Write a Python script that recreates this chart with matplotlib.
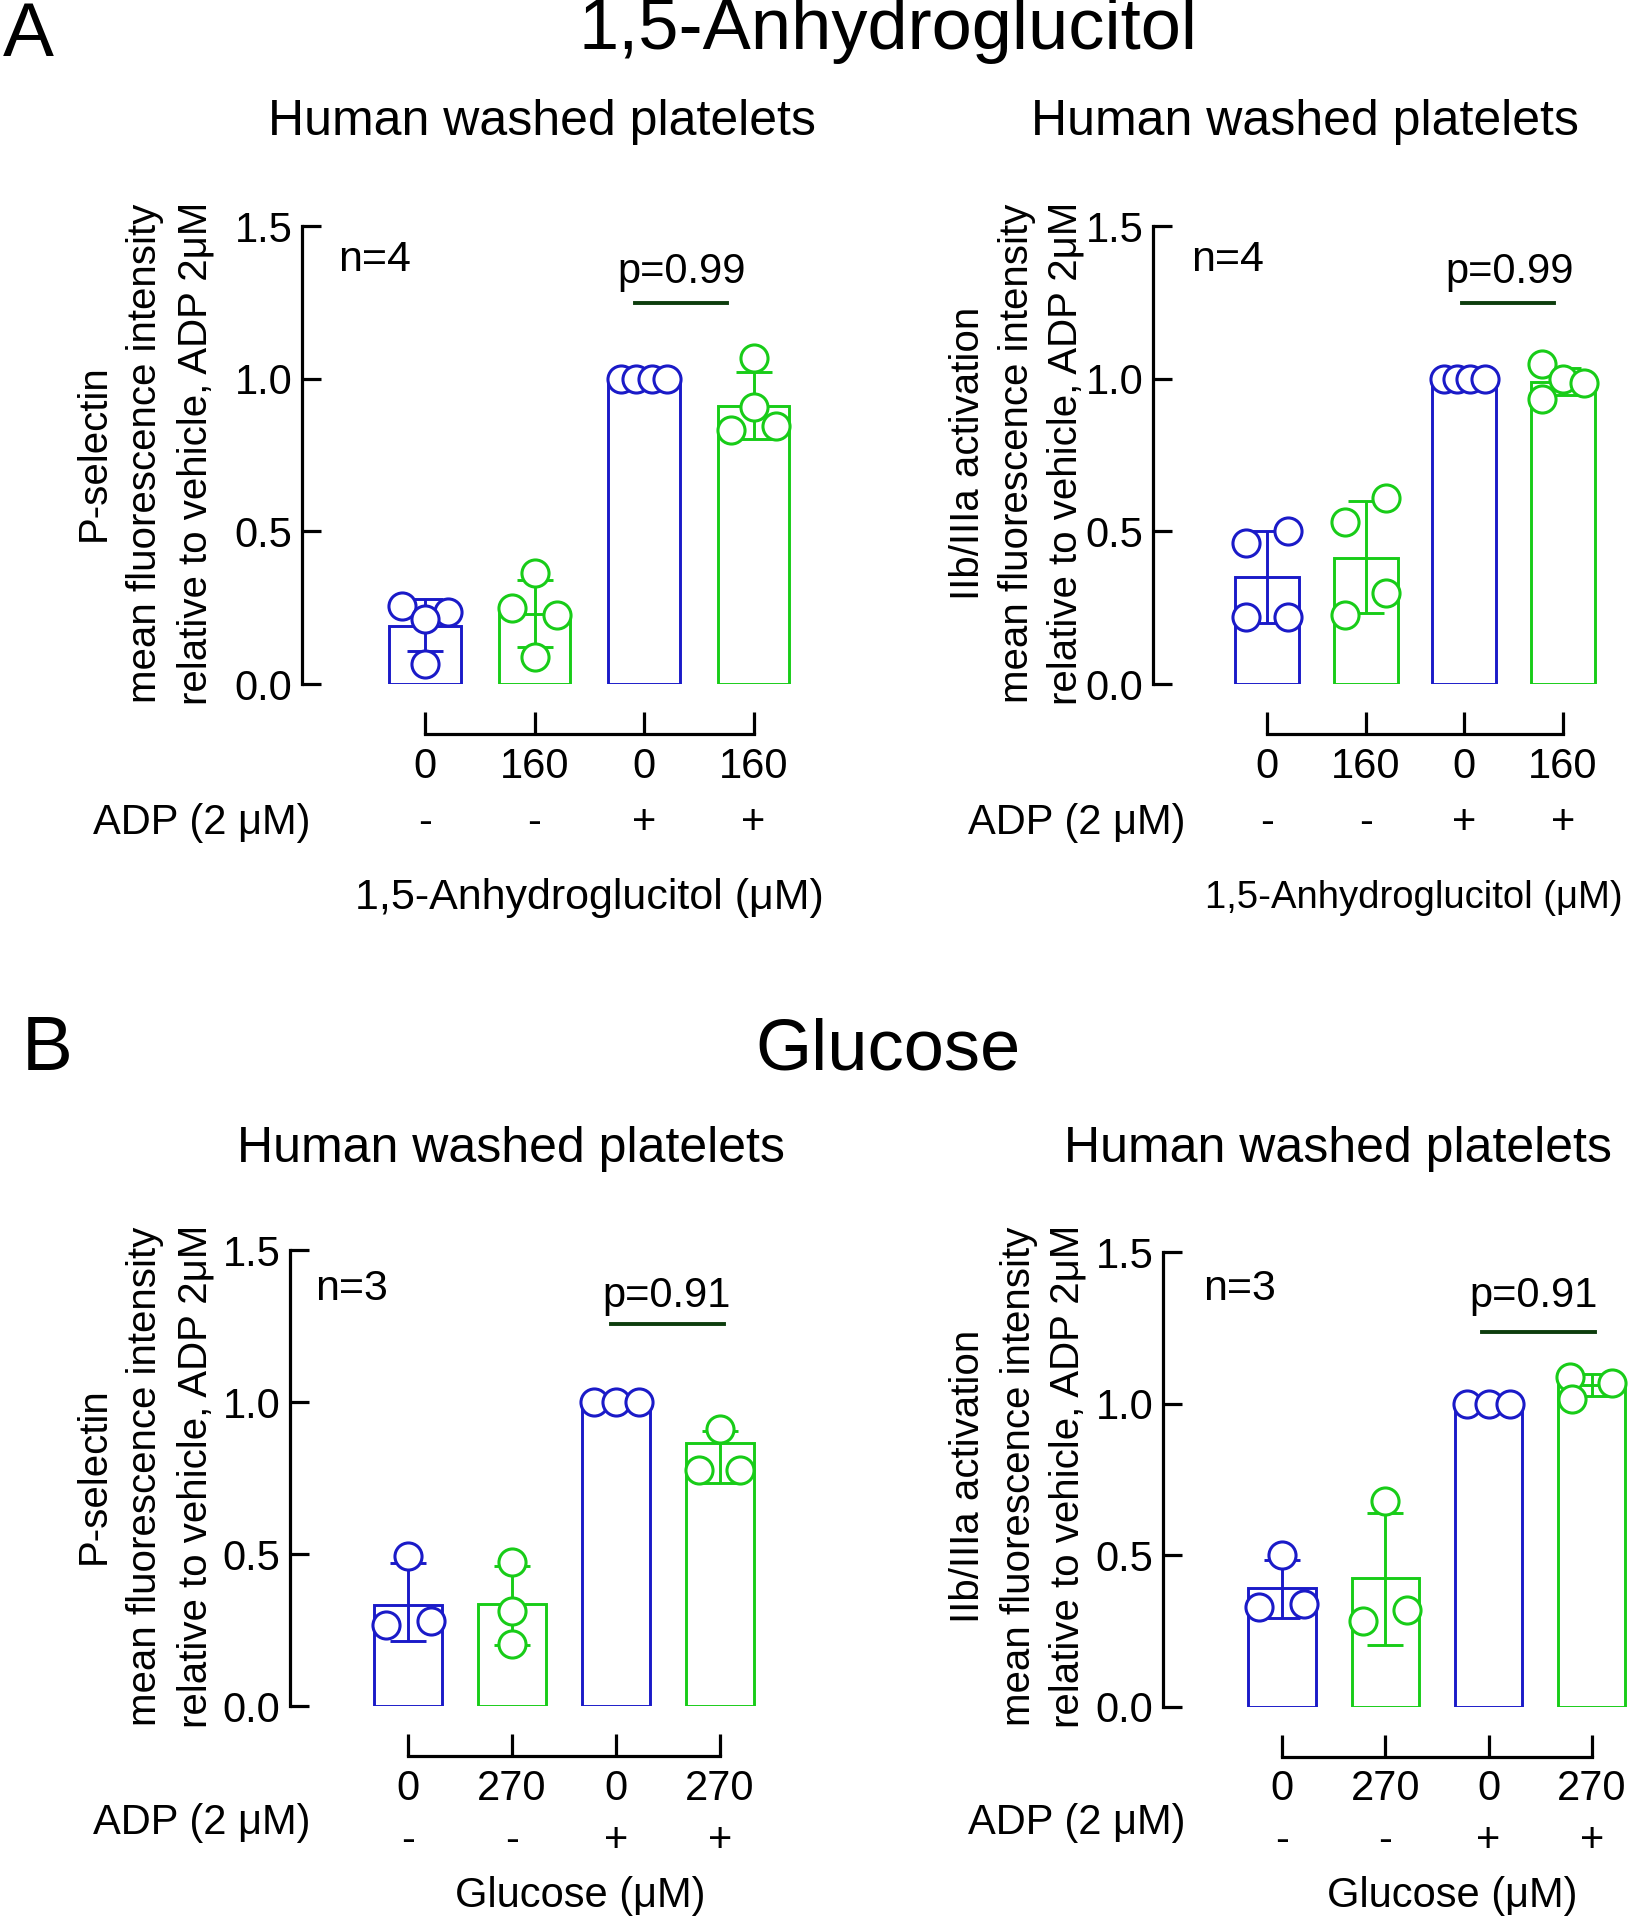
import matplotlib
matplotlib.use("Agg")
import matplotlib.pyplot as plt
from matplotlib.transforms import blended_transform_factory as btf

plt.rcParams['font.family'] = ['Liberation Sans', 'DejaVu Sans']

W, H = 1634, 1920
BLUE = '#1a1ac8'
GREEN = '#18cc18'
PLINE = '#0d3d0d'
COLORS = [BLUE, GREEN, BLUE, GREEN]
FS = 30
FS_Y = 29

# ---------------- data ----------------
ag_conc = ['0', '160', '0', '160']
glu_conc = ['0', '270', '0', '270']
adp_signs = ['-', '-', '+', '+']
yticks = [0.0, 0.5, 1.0, 1.5]
ytick_labels = ['0.0', '0.5', '1.0', '1.5']

# A, P-selectin, 1,5-AG
a_psel_mean = [0.19, 0.228, 1.0, 0.91]
a_psel_top = [0.277, 0.342, 1.0, 1.022]
a_psel_bot = [0.107, 0.12, 1.0, 0.804]
a_psel_pts = [[0.255, 0.237, 0.212, 0.067],
              [0.362, 0.25, 0.226, 0.087],
              [1.0, 1.0, 1.0, 1.0],
              [1.068, 0.908, 0.832, 0.846]]
a_psel_off = [[-0.21, 0.21, 0.0, 0.0],
              [0.0, -0.21, 0.21, 0.0],
              [-0.21, -0.07, 0.07, 0.21],
              [0.0, 0.0, -0.21, 0.21]]

# A, IIb/IIIa, 1,5-AG
a_gp_mean = [0.35, 0.413, 1.0, 0.99]
a_gp_top = [0.50, 0.598, 1.0, 1.036]
a_gp_bot = [0.199, 0.234, 1.0, 0.946]
a_gp_pts = [[0.462, 0.5, 0.22, 0.22],
            [0.609, 0.529, 0.299, 0.226],
            [1.0, 1.0, 1.0, 1.0],
            [1.047, 1.0, 0.986, 0.935]]
a_gp_off = [[-0.21, 0.21, -0.21, 0.21],
            [0.21, -0.21, 0.21, -0.21],
            [-0.21, -0.08, 0.06, 0.21],
            [-0.21, 0.0, 0.21, -0.21]]

# B, P-selectin, glucose
b_psel_mean = [0.333, 0.336, 1.0, 0.865]
b_psel_top = [0.47, 0.462, 1.0, 0.906]
b_psel_bot = [0.215, 0.2, 1.0, 0.733]
b_psel_pts = [[0.492, 0.265, 0.28],
              [0.475, 0.311, 0.204],
              [1.0, 1.0, 1.0],
              [0.912, 0.775, 0.775]]
b_psel_off = [[0.0, -0.215, 0.22],
              [0.0, 0.0, 0.0],
              [-0.21, 0.0, 0.22],
              [0.0, -0.2, 0.19]]

# B, IIb/IIIa, glucose
b_gp_mean = [0.392, 0.425, 1.0, 1.06]
b_gp_top = [0.486, 0.64, 1.0, 1.098]
b_gp_bot = [0.294, 0.206, 1.0, 1.026]
b_gp_pts = [[0.5, 0.329, 0.338],
            [0.678, 0.282, 0.321],
            [1.0, 1.0, 1.0],
            [1.087, 1.067, 1.015]]
b_gp_off = [[0.0, -0.22, 0.21],
            [0.0, -0.22, 0.21],
            [-0.21, 0.0, 0.21],
            [-0.21, 0.19, -0.19]]

fig = plt.figure(figsize=(W / 100, H / 100), dpi=100)


def ft(x, y, s, size, **kw):
    kw.setdefault('ha', 'center')
    kw.setdefault('va', 'center')
    fig.text(x / W, 1 - y / H, s, fontsize=size, **kw)


def panel(box, first_px, spacing_px, means, top, bot, pts, offs, conc,
          n_txt, n_xy, p_txt, p_line, p_y, ylabel_lines, ylabel_x, ylabel_yc,
          adp_y, adp_lab_xy, xlabel, xlabel_xy, xlabel_fs):
    l, t, r, b = box
    ax = fig.add_axes([l / W, 1 - b / H, (r - l) / W, (b - t) / H])
    x0 = (l - first_px) / spacing_px
    x1 = (r - first_px) / spacing_px
    ax.set_xlim(x0, x1)
    ax.set_ylim(0, 1.5)
    for s in ['top', 'right']:
        ax.spines[s].set_visible(False)
    ax.spines['left'].set_bounds(0, 1.5)
    ax.spines['left'].set_linewidth(2.3)
    ax.spines['bottom'].set_linewidth(2.3)
    ax.spines['bottom'].set_position(('outward', 36))
    ax.spines['bottom'].set_bounds(0, 3)
    ax.set_yticks(yticks)
    ax.set_yticklabels(ytick_labels)
    ax.set_xticks(range(4))
    ax.set_xticklabels(conc)
    ax.tick_params(axis='y', direction='in', length=14, width=2.3, labelsize=FS, pad=7)
    ax.tick_params(axis='x', direction='in', length=16, width=2.3, labelsize=FS, pad=9)
    xs = list(range(4))
    ax.bar(xs, means, width=0.65, facecolor='white', edgecolor=COLORS,
           linewidth=2.1, zorder=2)
    for i in xs:
        if top[i] != bot[i]:
            ax.errorbar(i, (top[i] + bot[i]) / 2, yerr=(top[i] - bot[i]) / 2,
                        color=COLORS[i], capsize=13, capthick=2.1, elinewidth=2.1,
                        zorder=3)
        for v, o in zip(pts[i], offs[i]):
            ax.plot(i + o, v, 'o', ms=19.5, mfc='white', mec=COLORS[i], mew=2.2,
                    zorder=4, clip_on=False)
    ax.plot(p_line, [p_y, p_y], color=PLINE, lw=2.8, zorder=3, clip_on=False)
    ft(n_xy[0], n_xy[1], n_txt, FS + 1)
    ft(p_txt[1], p_txt[2], p_txt[0], FS)
    for s, xx in zip(ylabel_lines, ylabel_x):
        ft(xx, ylabel_yc, s, FS_Y, rotation=90)
    tr = btf(ax.transData, fig.transFigure)
    for i in xs:
        ax.text(i, 1 - adp_y / H, adp_signs[i], transform=tr, fontsize=FS,
                ha='center', va='center')
    ft(adp_lab_xy[0], adp_lab_xy[1], 'ADP (2 μM)', FS)
    ft(xlabel_xy[0], xlabel_xy[1], xlabel, xlabel_fs)
    return ax


psel_lab = ['P-selectin', 'mean fluorescence intensity', 'relative to vehicle, ADP 2μM']
gp_lab = ['IIb/IIIa activation', 'mean fluorescence intensity', 'relative to vehicle, ADP 2μM']

# Panel A left
panel((302, 226, 830, 684), 425, 109.5, a_psel_mean, a_psel_top, a_psel_bot,
      a_psel_pts, a_psel_off, ag_conc, 'n=4', (375, 260),
      ('p=0.99', 682, 272), [1.92, 2.76], 1.248, psel_lab, [94, 145, 196], 453,
      823, (202, 823), '1,5-Anhydroglucitol (μM)', (589, 898), 31)
# Panel A right
panel((1153, 226, 1634, 684), 1267, 98.7, a_gp_mean, a_gp_top, a_gp_bot,
      a_gp_pts, a_gp_off, ag_conc, 'n=4', (1228, 260),
      ('p=0.99', 1510, 272), [1.98, 2.91], 1.248, gp_lab, [968, 1017, 1065], 453,
      823, (1077, 823), '1,5-Anhydroglucitol (μM)', (1414, 898), 27.5)
# Panel B left
panel((290, 1250, 800, 1706), 408, 104, b_psel_mean, b_psel_top, b_psel_bot,
      b_psel_pts, b_psel_off, glu_conc, 'n=3', (352, 1289),
      ('p=0.91', 667, 1296), [1.95, 3.04], 1.258, psel_lab, [94, 145, 196], 1476,
      1841, (202, 1823), 'Glucose (μM)', (580, 1896), FS)
# Panel B right
panel((1163, 1252, 1634, 1707), 1282, 103.3, b_gp_mean, b_gp_top, b_gp_bot,
      b_gp_pts, b_gp_off, glu_conc, 'n=3', (1240, 1289),
      ('p=0.91', 1534, 1296), [1.94, 3.03], 1.235, gp_lab, [968, 1019, 1068], 1476,
      1841, (1077, 1823), 'Glucose (μM)', (1452, 1896), FS)

ft(28, 1, 'A', 55, va='top')
ft(888, 30, '1,5-Anhydroglucitol', 52)
ft(542, 122, 'Human washed platelets', 36)
ft(1305, 122, 'Human washed platelets', 36)
ft(47, 1051, 'B', 55)
ft(888, 1051, 'Glucose', 52)
ft(511, 1149, 'Human washed platelets', 36)
ft(1338, 1149, 'Human washed platelets', 36)

fig.savefig('out.png', dpi=100, facecolor='white')
